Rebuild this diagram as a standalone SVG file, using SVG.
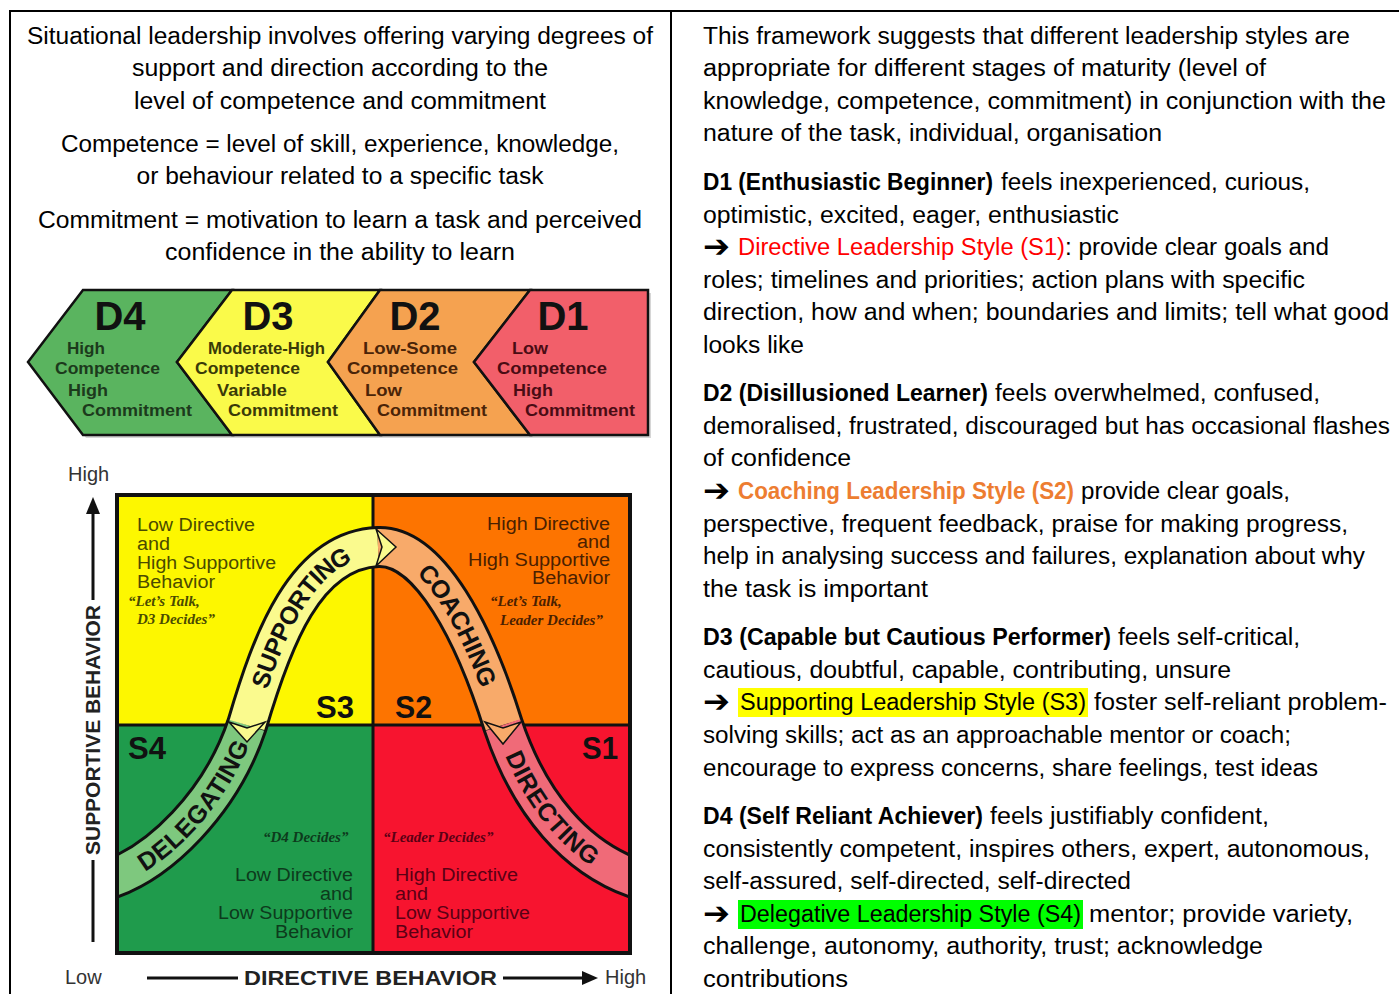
<svg xmlns="http://www.w3.org/2000/svg" width="1399" height="994" viewBox="0 0 1399 994">
<defs>
<style>
.t{font-family:"Liberation Sans",Arial,sans-serif;font-size:23px;fill:#000}
.b{font-weight:bold}
.arr{font-family:"DejaVu Sans",sans-serif;font-size:31px;font-weight:bold;fill:#000}
.chh{font-family:"Liberation Sans",Arial,sans-serif;font-size:40px;font-weight:bold;fill:#111}
.chs{font-family:"Liberation Sans",Arial,sans-serif;font-size:16px;font-weight:bold}
.q{font-family:"Liberation Sans",Arial,sans-serif;font-size:18px}
.qi{font-family:"Liberation Serif","Times New Roman",serif;font-size:15px;font-weight:bold;font-style:italic}
.s{font-family:"Liberation Sans",Arial,sans-serif;font-size:31px;font-weight:bold;fill:#111}
.band{font-family:"Liberation Sans",Arial,sans-serif;font-size:25px;font-weight:bold;fill:#111}
.ax{font-family:"Liberation Sans",Arial,sans-serif;font-size:20px;fill:#333}
.axb{font-family:"Liberation Sans",Arial,sans-serif;font-size:20px;font-weight:bold;fill:#222}
.chev{stroke:#111;stroke-width:2.5;stroke-linejoin:miter}
</style>
<clipPath id="boxclip"><rect x="119" y="497" width="509" height="454"/></clipPath>
<path id="pDel" d="M100,882 C160,866 222,800 247,725"/>
<path id="pSup" d="M247,725 C272,640 305,550 378,547"/>
<path id="pCoa" d="M378,547 C430,545 475,635 503,725"/>
<path id="pDir" d="M503,725 C528,800 575,862 647,882"/>
</defs>

<g id="table">
<line x1="10" y1="11" x2="1399" y2="11" stroke="#000" stroke-width="2"/>
<line x1="10" y1="10" x2="10" y2="994" stroke="#000" stroke-width="2"/>
<line x1="671" y1="10" x2="671" y2="994" stroke="#000" stroke-width="2"/>
</g>

<g id="left-text" text-anchor="middle">
<text class="t" x="340" y="44" textLength="626" lengthAdjust="spacingAndGlyphs">Situational leadership involves offering varying degrees of</text>
<text class="t" x="340" y="76" textLength="416" lengthAdjust="spacingAndGlyphs">support and direction according to the</text>
<text class="t" x="340" y="109" textLength="412" lengthAdjust="spacingAndGlyphs">level of competence and commitment</text>
<text class="t" x="340" y="152" textLength="558" lengthAdjust="spacingAndGlyphs">Competence = level of skill, experience, knowledge,</text>
<text class="t" x="340" y="184" textLength="407" lengthAdjust="spacingAndGlyphs">or behaviour related to a specific task</text>
<text class="t" x="340" y="228" textLength="604" lengthAdjust="spacingAndGlyphs">Commitment = motivation to learn a task and perceived</text>
<text class="t" x="340" y="260" textLength="350" lengthAdjust="spacingAndGlyphs">confidence in the ability to learn</text>
</g>

<g id="chevrons">
<polygon points="31,365 86,293 651,293 651,438 86,438" fill="#bbb" opacity="0.6"/>
<polygon class="chev" points="28,362 83,290 232,290 177,362 232,435 83,435" fill="#5ab45f"/>
<polygon class="chev" points="177,362 232,290 380,290 328,362 380,435 232,435" fill="#fafa4a"/>
<polygon class="chev" points="328,362 380,290 530,290 474,362 530,435 380,435" fill="#f5a250"/>
<polygon class="chev" points="474,362 530,290 648,290 648,435 530,435" fill="#f25f6a"/>
<text class="chh" x="120" y="330" text-anchor="middle">D4</text>
<text class="chh" x="268" y="330" text-anchor="middle">D3</text>
<text class="chh" x="415" y="330" text-anchor="middle">D2</text>
<text class="chh" x="563" y="330" text-anchor="middle">D1</text>
<g class="chs" fill="#1c3a1c">
<text x="67" y="354" textLength="38" lengthAdjust="spacingAndGlyphs">High</text>
<text x="55" y="374" textLength="105" lengthAdjust="spacingAndGlyphs">Competence</text>
<text x="68" y="396" textLength="40" lengthAdjust="spacingAndGlyphs">High</text>
<text x="82" y="416" textLength="110" lengthAdjust="spacingAndGlyphs">Commitment</text>
</g>
<g class="chs" fill="#3a3a08">
<text x="208" y="354" textLength="117" lengthAdjust="spacingAndGlyphs">Moderate-High</text>
<text x="195" y="374" textLength="105" lengthAdjust="spacingAndGlyphs">Competence</text>
<text x="217" y="396" textLength="70" lengthAdjust="spacingAndGlyphs">Variable</text>
<text x="228" y="416" textLength="110" lengthAdjust="spacingAndGlyphs">Commitment</text>
</g>
<g class="chs" fill="#4a2408">
<text x="363" y="354" textLength="94" lengthAdjust="spacingAndGlyphs">Low-Some</text>
<text x="347" y="374" textLength="111" lengthAdjust="spacingAndGlyphs">Competence</text>
<text x="365" y="396" textLength="37" lengthAdjust="spacingAndGlyphs">Low</text>
<text x="377" y="416" textLength="110" lengthAdjust="spacingAndGlyphs">Commitment</text>
</g>
<g class="chs" fill="#4a0c14">
<text x="512" y="354" textLength="36" lengthAdjust="spacingAndGlyphs">Low</text>
<text x="497" y="374" textLength="110" lengthAdjust="spacingAndGlyphs">Competence</text>
<text x="513" y="396" textLength="40" lengthAdjust="spacingAndGlyphs">High</text>
<text x="525" y="416" textLength="110" lengthAdjust="spacingAndGlyphs">Commitment</text>
</g>
</g>

<g id="quadrants">
<rect x="117" y="495" width="256" height="230" fill="#fdf700"/>
<rect x="373" y="495" width="257" height="230" fill="#fd7400"/>
<rect x="117" y="725" width="256" height="228" fill="#1f9b4c"/>
<rect x="373" y="725" width="257" height="228" fill="#f7142f"/>
<line x1="373" y1="495" x2="373" y2="953" stroke="#111" stroke-width="3"/>
<line x1="117" y1="725" x2="630" y2="725" stroke="#111" stroke-width="3"/>
<rect x="117" y="495" width="513" height="458" fill="none" stroke="#111" stroke-width="4"/>
</g>

<g id="quadrant-text">
<g class="q" fill="#4a4a00">
<text x="137" y="531" textLength="118" lengthAdjust="spacingAndGlyphs">Low Directive</text>
<text x="137" y="550" textLength="33" lengthAdjust="spacingAndGlyphs">and</text>
<text x="137" y="569" textLength="139" lengthAdjust="spacingAndGlyphs">High Supportive</text>
<text x="137" y="588" textLength="78" lengthAdjust="spacingAndGlyphs">Behavior</text>
</g>
<g class="qi" fill="#4a4a00">
<text x="128" y="606">“Let’s Talk,</text>
<text x="137" y="624">D3 Decides”</text>
</g>
<g class="q" fill="#4a2000" text-anchor="end">
<text x="610" y="530" textLength="123" lengthAdjust="spacingAndGlyphs">High Directive</text>
<text x="610" y="548" textLength="33" lengthAdjust="spacingAndGlyphs">and</text>
<text x="610" y="566" textLength="142" lengthAdjust="spacingAndGlyphs">High Supportive</text>
<text x="610" y="584" textLength="78" lengthAdjust="spacingAndGlyphs">Behavior</text>
</g>
<g class="qi" fill="#4a2000">
<text x="490" y="606">“Let’s Talk,</text>
<text x="500" y="625">Leader Decides”</text>
</g>
<text class="qi" x="263" y="842" fill="#0d3a1c">“D4 Decides”</text>
<g class="q" fill="#0d3a1c" text-anchor="end">
<text x="353" y="881" textLength="118" lengthAdjust="spacingAndGlyphs">Low Directive</text>
<text x="353" y="900" textLength="33" lengthAdjust="spacingAndGlyphs">and</text>
<text x="353" y="919" textLength="135" lengthAdjust="spacingAndGlyphs">Low Supportive</text>
<text x="353" y="938" textLength="78" lengthAdjust="spacingAndGlyphs">Behavior</text>
</g>
<text class="qi" x="383" y="842" fill="#5a0014">“Leader Decides”</text>
<g class="q" fill="#5a0014">
<text x="395" y="881" textLength="123" lengthAdjust="spacingAndGlyphs">High Directive</text>
<text x="395" y="900" textLength="33" lengthAdjust="spacingAndGlyphs">and</text>
<text x="395" y="919" textLength="135" lengthAdjust="spacingAndGlyphs">Low Supportive</text>
<text x="395" y="938" textLength="78" lengthAdjust="spacingAndGlyphs">Behavior</text>
</g>
<text class="s" x="316" y="718" textLength="38" lengthAdjust="spacingAndGlyphs">S3</text>
<text class="s" x="395" y="718" textLength="37" lengthAdjust="spacingAndGlyphs">S2</text>
<text class="s" x="128" y="759" textLength="38" lengthAdjust="spacingAndGlyphs">S4</text>
<text class="s" x="582" y="759" textLength="36" lengthAdjust="spacingAndGlyphs">S1</text>
</g>

<g id="connectors">
<g clip-path="url(#boxclip)" fill="none">
<path d="M100,882 C160,866 222,800 247,725 C272,640 305,550 378,547 C430,545 475,635 503,725 C528,800 575,862 647,882" stroke="#111" stroke-width="42"/>
<use href="#pDel" stroke="#7ec87e" stroke-width="36"/>
<use href="#pSup" stroke="#fafa8e" stroke-width="36"/>
<use href="#pCoa" stroke="#f8aa6a" stroke-width="36"/>
<use href="#pDir" stroke="#f06a78" stroke-width="36"/>
</g>
<polygon points="229,722 247,728 265,722 247,742" fill="#fafa8e" stroke="#111" stroke-width="1.5"/>
<polygon points="376,529 396,547 376,566 382,547" fill="#fafa8e" stroke="#111" stroke-width="1.5"/>
<polygon points="485,722 503,728 521,722 503,744" fill="#f8aa6a" stroke="#111" stroke-width="1.5"/>
<text class="band" dy="9"><textPath href="#pDel" startOffset="56%" text-anchor="middle">DELEGATING</textPath></text>
<text class="band" dy="9"><textPath href="#pSup" startOffset="52%" text-anchor="middle">SUPPORTING</textPath></text>
<text class="band" dy="9"><textPath href="#pCoa" startOffset="52%" text-anchor="middle">COACHING</textPath></text>
<text class="band" dy="9"><textPath href="#pDir" startOffset="44%" text-anchor="middle">DIRECTING</textPath></text>
</g>

<g id="axes">
<text class="ax" x="68" y="481">High</text>
<line x1="93" y1="512" x2="93" y2="600" stroke="#111" stroke-width="3"/>
<polygon points="93,497 86,514 100,514" fill="#111"/>
<line x1="93" y1="860" x2="93" y2="942" stroke="#111" stroke-width="3"/>
<text class="axb" transform="translate(100,730) rotate(-90)" text-anchor="middle" textLength="250" lengthAdjust="spacingAndGlyphs">SUPPORTIVE BEHAVIOR</text>
<text class="ax" x="65" y="984">Low</text>
<line x1="147" y1="978" x2="238" y2="978" stroke="#111" stroke-width="3"/>
<text class="axb" x="244" y="985" textLength="253" lengthAdjust="spacingAndGlyphs">DIRECTIVE BEHAVIOR</text>
<line x1="503" y1="978" x2="586" y2="978" stroke="#111" stroke-width="3"/>
<polygon points="598,978 582,971 582,985" fill="#111"/>
<text class="ax" x="605" y="984">High</text>
</g>

<g id="right-text">
<rect x="738" y="688" width="350" height="29" fill="#ffff00"/>
<rect x="738" y="900" width="345" height="29" fill="#00ff00"/>
<text class="t" x="703" y="44" textLength="647" lengthAdjust="spacingAndGlyphs">This framework suggests that different leadership styles are</text>
<text class="t" x="703" y="76" textLength="563" lengthAdjust="spacingAndGlyphs">appropriate for different stages of maturity (level of</text>
<text class="t" x="703" y="109" textLength="683" lengthAdjust="spacingAndGlyphs">knowledge, competence, commitment) in conjunction with the</text>
<text class="t" x="703" y="141" textLength="459" lengthAdjust="spacingAndGlyphs">nature of the task, individual, organisation</text>

<text class="t b" x="703" y="190" textLength="290" lengthAdjust="spacingAndGlyphs">D1 (Enthusiastic Beginner)</text>
<text class="t" x="1001" y="190" textLength="309" lengthAdjust="spacingAndGlyphs">feels inexperienced, curious,</text>
<text class="t" x="703" y="223" textLength="416" lengthAdjust="spacingAndGlyphs">optimistic, excited, eager, enthusiastic</text>
<text class="arr" x="703" y="257" textLength="27" lengthAdjust="spacingAndGlyphs">➔</text>
<text class="t" x="738" y="255" style="fill:#ff0000" textLength="327" lengthAdjust="spacingAndGlyphs">Directive Leadership Style (S1)</text>
<text class="t" x="1065" y="255" textLength="264" lengthAdjust="spacingAndGlyphs">: provide clear goals and</text>
<text class="t" x="703" y="288" textLength="602" lengthAdjust="spacingAndGlyphs">roles; timelines and priorities; action plans with specific</text>
<text class="t" x="703" y="320" textLength="686" lengthAdjust="spacingAndGlyphs">direction, how and when; boundaries and limits; tell what good</text>
<text class="t" x="703" y="353" textLength="101" lengthAdjust="spacingAndGlyphs">looks like</text>

<text class="t b" x="703" y="401" textLength="285" lengthAdjust="spacingAndGlyphs">D2 (Disillusioned Learner)</text>
<text class="t" x="995" y="401" textLength="325" lengthAdjust="spacingAndGlyphs">feels overwhelmed, confused,</text>
<text class="t" x="703" y="434" textLength="687" lengthAdjust="spacingAndGlyphs">demoralised, frustrated, discouraged but has occasional flashes</text>
<text class="t" x="703" y="466" textLength="148" lengthAdjust="spacingAndGlyphs">of confidence</text>
<text class="arr" x="703" y="501" textLength="27" lengthAdjust="spacingAndGlyphs">➔</text>
<text class="t b" x="738" y="499" style="fill:#ed7d31" textLength="336" lengthAdjust="spacingAndGlyphs">Coaching Leadership Style (S2)</text>
<text class="t" x="1081" y="499" textLength="209" lengthAdjust="spacingAndGlyphs">provide clear goals,</text>
<text class="t" x="703" y="532" textLength="645" lengthAdjust="spacingAndGlyphs">perspective, frequent feedback, praise for making progress,</text>
<text class="t" x="703" y="564" textLength="662" lengthAdjust="spacingAndGlyphs">help in analysing success and failures, explanation about why</text>
<text class="t" x="703" y="597" textLength="225" lengthAdjust="spacingAndGlyphs">the task is important</text>

<text class="t b" x="703" y="645" textLength="408" lengthAdjust="spacingAndGlyphs">D3 (Capable but Cautious Performer)</text>
<text class="t" x="1118" y="645" textLength="182" lengthAdjust="spacingAndGlyphs">feels self-critical,</text>
<text class="t" x="703" y="678" textLength="528" lengthAdjust="spacingAndGlyphs">cautious, doubtful, capable, contributing, unsure</text>
<text class="arr" x="703" y="712" textLength="27" lengthAdjust="spacingAndGlyphs">➔</text>
<text class="t" x="740" y="710" textLength="346" lengthAdjust="spacingAndGlyphs">Supporting Leadership Style (S3)</text>
<text class="t" x="1094" y="710" textLength="293" lengthAdjust="spacingAndGlyphs">foster self-reliant problem-</text>
<text class="t" x="703" y="743" textLength="588" lengthAdjust="spacingAndGlyphs">solving skills; act as an approachable mentor or coach;</text>
<text class="t" x="703" y="776" textLength="615" lengthAdjust="spacingAndGlyphs">encourage to express concerns, share feelings, test ideas</text>

<text class="t b" x="703" y="824" textLength="280" lengthAdjust="spacingAndGlyphs">D4 (Self Reliant Achiever)</text>
<text class="t" x="990" y="824" textLength="279" lengthAdjust="spacingAndGlyphs">feels justifiably confident,</text>
<text class="t" x="703" y="857" textLength="667" lengthAdjust="spacingAndGlyphs">consistently competent, inspires others, expert, autonomous,</text>
<text class="t" x="703" y="889" textLength="428" lengthAdjust="spacingAndGlyphs">self-assured, self-directed, self-directed</text>
<text class="arr" x="703" y="924" textLength="27" lengthAdjust="spacingAndGlyphs">➔</text>
<text class="t" x="740" y="922" textLength="341" lengthAdjust="spacingAndGlyphs">Delegative Leadership Style (S4)</text>
<text class="t" x="1089" y="922" textLength="264" lengthAdjust="spacingAndGlyphs">mentor; provide variety,</text>
<text class="t" x="703" y="954" textLength="560" lengthAdjust="spacingAndGlyphs">challenge, autonomy, authority, trust; acknowledge</text>
<text class="t" x="703" y="987" textLength="145" lengthAdjust="spacingAndGlyphs">contributions</text>
</g>
</svg>
